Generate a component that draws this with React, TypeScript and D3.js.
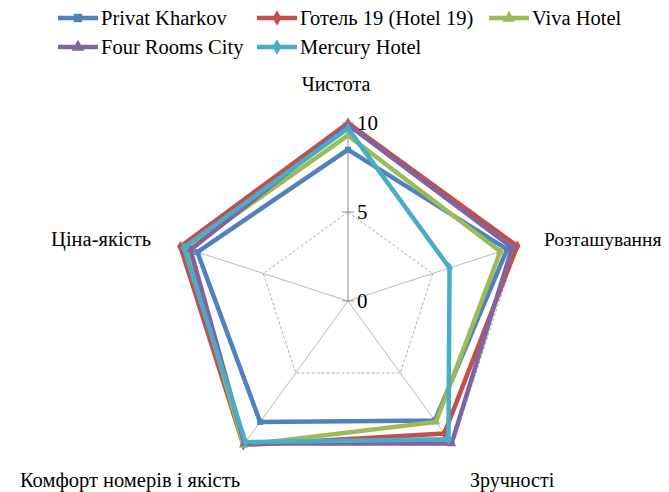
import React from 'react'
import * as d3 from 'd3'

// categories go clockwise from the top
const categories = ['Чистота', 'Розташування', 'Зручності', 'Комфорт номерів і якість', 'Ціна-якість']
const seriesNames = ['Privat Kharkov', 'Готель 19 (Hotel 19)', 'Viva Hotel', 'Four Rooms City', 'Mercury Hotel']
const privatKharkov = [8.5, 9.4, 8.3, 8.4, 8.9]
const hotel19 = [10, 10, 9.2, 10, 9.9]
const vivaHotel = [9.3, 9.0, 8.4, 10, 9.5]
const fourRooms = [9.9, 9.7, 9.9, 9.9, 9.3]
const mercuryHotel = [9.7, 6.0, 9.6, 9.8, 9.7]
const tickValues = [0, 5, 10]

const seriesValues = [privatKharkov, hotel19, vivaHotel, fourRooms, mercuryHotel]
const colors = ['#4F81BD', '#C0504D', '#9BBB59', '#8064A2', '#4BACC6']
const markers = [d3.symbolSquare, d3.symbolDiamond, d3.symbolTriangle, d3.symbolTriangle, d3.symbolDiamond]

export default function App() {
  const width = 669
  const height = 492
  const cx = 348
  const cy = 301
  const radius = 178

  const r = d3.scaleLinear().domain([0, 10]).range([0, radius])
  const angle = d3.scaleLinear().domain([0, categories.length]).range([0, 2 * Math.PI])

  const pt = (i: number, v: number): [number, number] => {
    const a = angle(i)
    return [cx + r(v) * Math.sin(a), cy - r(v) * Math.cos(a)]
  }

  const ring = (v: number) =>
    d3.line()(categories.map((_, i) => pt(i, v)).concat([pt(0, v)])) as string

  const radar = (vals: number[]) =>
    d3.line()(vals.map((v, i) => pt(i, v)).concat([pt(0, vals[0])])) as string

  // label placement per category
  const labelPos = [
    { x: cx - 12, y: 91, anchor: 'middle', size: 20 },
    { x: 544, y: 246, anchor: 'start', size: 19.5 },
    { x: 470, y: 487, anchor: 'start', size: 20 },
    { x: 240, y: 487, anchor: 'end', size: 20.5 },
    { x: 151, y: 246, anchor: 'end', size: 20.5 },
  ]

  const legendItems = [
    { x: 58, y: 18 },
    { x: 257, y: 18 },
    { x: 489, y: 18 },
    { x: 58, y: 47 },
    { x: 257, y: 47 },
  ]

  return (
    <svg width={width} height={height} fontFamily="Liberation Serif, Times New Roman, serif"
      style={{ display: 'block', position: 'absolute', left: 0, top: 0 }}>
      <rect width={width} height={height} fill="#fff" />

      {/* spokes */}
      {categories.map((c, i) => {
        const [x, y] = pt(i, 10)
        return (
          <line key={c} x1={cx} y1={cy} x2={x} y2={y}
            stroke={i === 0 ? '#8c8c8c' : '#a6a6a6'} strokeWidth={i === 0 ? 1 : 0.8} />
        )
      })}

      {/* grid rings */}
      {tickValues.filter(t => t > 0).map(t => (
        <path key={t} d={ring(t)} fill="none" stroke="#9a9a9a" strokeWidth={0.8} strokeDasharray="3,2" />
      ))}

      {/* tick marks on the first axis */}
      {tickValues.map(t => (
        <line key={t} x1={cx - 6} x2={cx + 6} y1={cy - r(t)} y2={cy - r(t)} stroke="#8c8c8c" strokeWidth={1} />
      ))}

      {/* series */}
      {seriesValues.map((vals, s) => (
        <g key={seriesNames[s]}>
          <path d={radar(vals)} fill="none" stroke={colors[s]} strokeWidth={4.5} strokeLinejoin="miter" />
          {vals.map((v, i) => {
            const [x, y] = pt(i, v)
            return (
              <path key={i} transform={`translate(${x},${y})`}
                d={d3.symbol(markers[s], 36)() as string} fill={colors[s]} />
            )
          })}
        </g>
      ))}

      {/* tick labels */}
      {tickValues.map(t => (
        <text key={t} x={cx + 9} y={cy - r(t) + 7} fontSize={21} fill="#000">{t}</text>
      ))}

      {/* category labels */}
      {categories.map((c, i) => (
        <text key={c} x={labelPos[i].x} y={labelPos[i].y} textAnchor={labelPos[i].anchor as any}
          fontSize={labelPos[i].size} fill="#000">{c}</text>
      ))}

      {/* legend */}
      {seriesNames.map((name, s) => {
        const { x, y } = legendItems[s]
        return (
          <g key={name} transform={`translate(${x},${y})`}>
            <line x1={0} x2={40} y1={0} y2={0} stroke={colors[s]} strokeWidth={4.5} />
            <path transform="translate(20,0)" d={d3.symbol(markers[s], 70)() as string} fill={colors[s]} />
            <text x={43} y={7} fontSize={20.5} fill="#000">{name}</text>
          </g>
        )
      })}
    </svg>
  )
}
